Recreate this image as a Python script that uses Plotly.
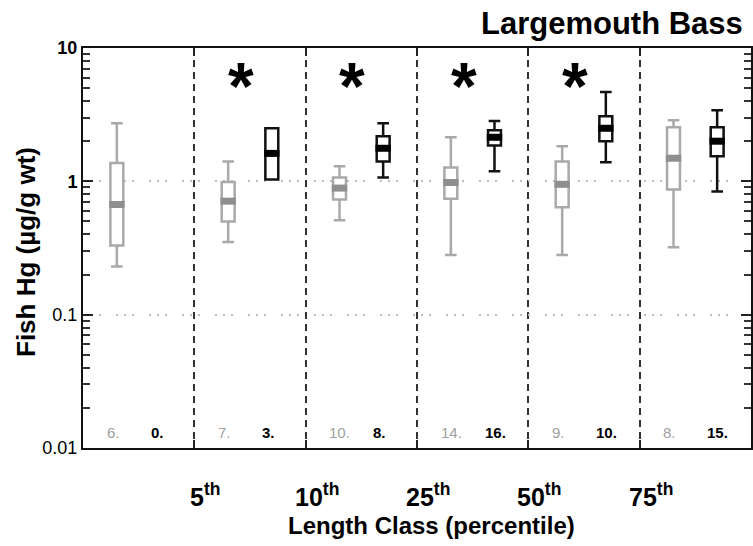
import plotly.graph_objects as go

# ---- data ----
groups = [0.5, 1.5, 2.5, 3.5, 4.5, 5.5]          # length-class slots
class_labels = ["5", "10", "25", "50", "75"]      # percentile boundaries
boundaries = [1, 2, 3, 4, 5]

# light (gray) series
gray_q1 = [0.33, 0.50, 0.73, 0.74, 0.64, 0.87]
gray_med = [0.67, 0.71, 0.89, 0.98, 0.95, 1.49]
gray_q3 = [1.37, 0.99, 1.07, 1.27, 1.41, 2.55]
gray_lo = [0.23, 0.35, 0.51, 0.28, 0.28, 0.32]
gray_hi = [2.73, 1.41, 1.30, 2.14, 1.83, 2.87]
gray_n = [6, 7, 10, 14, 9, 8]

# dark (black) series
black_q1 = [None, 1.03, 1.41, 1.86, 2.00, 1.54]
black_med = [None, 1.62, 1.77, 2.14, 2.50, 2.00]
black_q3 = [None, 2.50, 2.18, 2.42, 3.08, 2.55]
black_lo = [None, 1.03, 1.07, 1.19, 1.39, 0.84]
black_hi = [None, 2.50, 2.73, 2.83, 4.67, 3.42]
black_n = [0, 3, 8, 16, 10, 15]

significant = [False, True, True, True, True, False]

OFF = 0.196
BW = 0.116
FONT = "Liberation Sans, Arial, sans-serif"

fig = go.Figure()


def add_series(qs1, med, qs3, lo, hi, color, band_color, sign):
    idx = [i for i in range(len(groups)) if med[i] is not None]
    xs = [groups[i] + sign * OFF for i in idx]
    fig.add_trace(go.Box(
        x=xs,
        q1=[qs1[i] for i in idx], median=[med[i] for i in idx], q3=[qs3[i] for i in idx],
        lowerfence=[lo[i] for i in idx], upperfence=[hi[i] for i in idx],
        width=BW, whiskerwidth=0.9, fillcolor="white",
        line=dict(color=color, width=2.5), boxpoints=False, showlegend=False,
        hoverinfo="skip",
    ))
    fig.add_trace(go.Scatter(
        x=xs, y=[med[i] for i in idx], mode="markers", showlegend=False,
        marker=dict(symbol="line-ew", size=11, color=band_color,
                    line=dict(color=band_color, width=7)),
        hoverinfo="skip",
    ))


add_series(gray_q1, gray_med, gray_q3, gray_lo, gray_hi, "#a9a9a9", "#8f8f8f", -1)
add_series(black_q1, black_med, black_q3, black_lo, black_hi, "#111111", "#000000", 1)

ann = []
# counts
for i, g in enumerate(groups):
    ann.append(dict(x=g, y=0.04, xref="x", yref="paper", text=f"{gray_n[i]}.",
                    xanchor="left", yanchor="middle", xshift=-34, showarrow=False,
                    font=dict(family=FONT, size=15, color="#a0a0a0")))
    ann.append(dict(x=g, y=0.04, xref="x", yref="paper", text=f"<b>{black_n[i]}.</b>",
                    xanchor="left", yanchor="middle", xshift=10, showarrow=False,
                    font=dict(family=FONT, size=15, color="#000000")))
    if significant[i]:
        ann.append(dict(x=g, y=1, xref="x", yref="paper", text="<b>*</b>",
                        xanchor="center", yanchor="middle", xshift=-9, yshift=-38,
                        showarrow=False, font=dict(family=FONT, size=66, color="#000000")))
# class labels
for b, lab in zip(boundaries, class_labels):
    ann.append(dict(x=b, y=0, xref="x", yref="paper", text=f"<b>{lab}<sup>th</sup></b>",
                    xanchor="center", yanchor="middle", xshift=11, yshift=-47,
                    showarrow=False, font=dict(family=FONT, size=25, color="#000000")))
# axis titles & title
ann.append(dict(x=0.521, y=0, xref="paper", yref="paper", text="<b>Length Class (percentile)</b>",
                xanchor="center", yanchor="middle", yshift=-77, showarrow=False,
                font=dict(family=FONT, size=24, color="#000000")))
ann.append(dict(x=0, y=0.49, xref="paper", yref="paper", text="<b>Fish Hg (µg/g wt)</b>",
                xanchor="center", yanchor="middle", xshift=-57, textangle=-90, showarrow=False,
                font=dict(family=FONT, size=26, color="#000000")))
ann.append(dict(x=1, y=1, xref="paper", yref="paper", text="<b>Largemouth Bass</b>",
                xanchor="right", yanchor="middle", xshift=-6, yshift=25, showarrow=False,
                font=dict(family=FONT, size=31, color="#000000")))

ytick_vals = [0.01, 0.1, 1, 10]
ytick_text = ["0.01", "0.1", "<b>1</b>", "<b>10</b>"]

fig.update_layout(
    width=753, height=546,
    margin=dict(l=83, r=0, t=48, b=98),
    paper_bgcolor="white", plot_bgcolor="white",
    annotations=ann,
    xaxis=dict(
        range=[0, 6], tickmode="array", tickvals=boundaries, showticklabels=False,
        ticks="inside", ticklen=8, tickwidth=2, tickcolor="#222",
        showgrid=True, gridcolor="#333333", gridwidth=2, griddash="7px,5px",
        showline=True, linecolor="#111", linewidth=2, mirror="ticks", zeroline=False,
    ),
    yaxis=dict(
        type="log", range=[-2, 1], tickmode="array", tickvals=ytick_vals, ticktext=ytick_text,
        ticks="inside", ticklen=10, tickwidth=2, tickcolor="#222",
        tickfont=dict(family=FONT, size=18, color="#000"),
        showgrid=True, gridcolor="#bdbdbd", gridwidth=1.5,
        griddash="2px,6px,2px,6px,2px,15px",
        minor=dict(ticks="inside", ticklen=7, tickwidth=2, tickcolor="#333", dtick="D1",
                   showgrid=False),
        showline=True, linecolor="#111", linewidth=2, mirror="ticks", zeroline=False,
    ),
)

fig.write_html("out.html")
